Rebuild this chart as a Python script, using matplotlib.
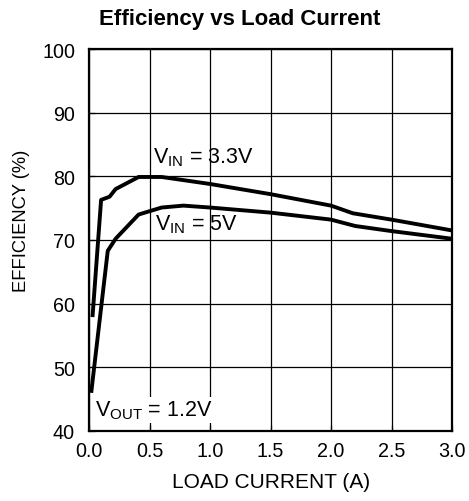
import matplotlib
matplotlib.use("Agg")
import matplotlib.pyplot as plt

plt.rcParams['font.family'] = ['Liberation Sans', 'DejaVu Sans']
plt.rcParams['mathtext.fontset'] = 'custom'
plt.rcParams['mathtext.rm'] = 'Liberation Sans'
plt.rcParams['mathtext.it'] = 'Liberation Sans:italic'
plt.rcParams['mathtext.bf'] = 'Liberation Sans:bold'

# Data
load_33 = [0.03, 0.10, 0.17, 0.22, 0.41, 0.60, 1.0, 1.5, 2.0, 2.18, 2.5, 3.0]
eff_33 = [58.2, 76.3, 76.8, 78.0, 79.9, 79.9, 78.8, 77.2, 75.4, 74.2, 73.2, 71.5]

load_5 = [0.02, 0.155, 0.22, 0.41, 0.60, 0.78, 1.0, 1.5, 2.0, 2.2, 2.5, 3.0]
eff_5 = [46.3, 68.3, 70.2, 74.0, 75.1, 75.4, 75.1, 74.3, 73.2, 72.2, 71.4, 70.2]

xticks = [0.0, 0.5, 1.0, 1.5, 2.0, 2.5, 3.0]
xticklabels = ['0.0', '0.5', '1.0', '1.5', '2.0', '2.5', '3.0']
yticks = [40, 50, 60, 70, 80, 90, 100]

W, H = 469, 502
fig = plt.figure(figsize=(W/100, H/100), dpi=100)
ax = fig.add_axes([89/W, 1 - 432/H, (452-89)/W, (432-50)/H])

ax.plot(load_33, eff_33, color='black', lw=2.8, zorder=3, solid_joinstyle='round')
ax.plot(load_5, eff_5, color='black', lw=2.8, zorder=3, solid_joinstyle='round')

ax.set_xlim(0, 3.0)
ax.set_ylim(40, 100)
ax.set_xticks(xticks)
ax.set_xticklabels(xticklabels)
ax.set_yticks(yticks)
ax.grid(True, color='black', lw=0.9)
ax.set_axisbelow(True)
for s in ax.spines.values():
    s.set_linewidth(1.6)
ax.tick_params(direction='in', length=4, width=0.9, labelsize=14.2, pad=7)
ax.tick_params(axis='y', pad=10)

fig.text(271/W, 1 - 488/H, 'LOAD CURRENT (A)', fontsize=15, ha='center', va='baseline')
fig.text(22/W, 1 - 221/H, 'EFFICIENCY (%)', fontsize=13.2, rotation=90,
         ha='center', va='center')
fig.text(240/W, 1 - 25/H, 'Efficiency vs Load Current', fontsize=16,
         fontweight='bold', ha='center', va='baseline')

ax.text(0.53, 82.2, r'V$_{\mathrm{IN}}$ = 3.3V', fontsize=15.5, ha='left', va='baseline',
        zorder=4)
ax.text(0.545, 71.7, r'V$_{\mathrm{IN}}$ = 5V', fontsize=15.5, ha='left', va='baseline',
        zorder=4)
ax.text(0.05, 42.4, r'V$_{\mathrm{OUT}}$ = 1.2V', fontsize=15.5, ha='left', va='baseline',
        zorder=4, bbox=dict(facecolor='white', edgecolor='none', pad=1))

fig.savefig('out.png', dpi=100)
